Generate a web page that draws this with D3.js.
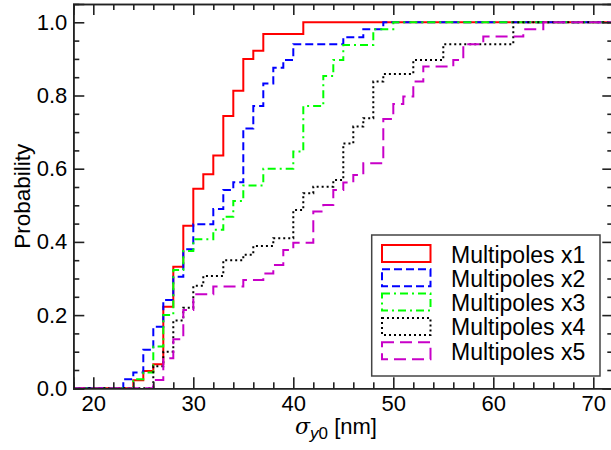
<!DOCTYPE html>
<html>
<head>
<meta charset="utf-8">
<script src="https://cdn.jsdelivr.net/npm/d3@7/dist/d3.min.js"></script>
<style>
  html, body { margin: 0; padding: 0; background: #fff; }
  svg { display: block; font-family: "Liberation Sans", Arial, Helvetica, sans-serif; }
</style>
</head>
<body>
<svg id="chart" width="611" height="450"></svg>
<script>
// Cumulative distributions of sigma_y0 for each multipole scaling (step positions in nm, cumulative probability)
const seriesNames = ["Multipoles x1", "Multipoles x2", "Multipoles x3", "Multipoles x4", "Multipoles x5"];

const x1Sigma = [24, 25, 26, 27, 28, 29, 30, 31, 32, 33, 34, 35, 36, 37, 41];
const x1Prob  = [0.022, 0.047, 0.066, 0.223, 0.332, 0.444, 0.545, 0.585, 0.636, 0.744, 0.813, 0.900, 0.922, 0.968, 1.0];

const x2Sigma = [23, 24, 25, 26, 27, 28, 29, 30, 32, 33, 34, 35, 36, 37, 38, 39, 40, 45, 47, 49];
const x2Prob  = [0.025, 0.043, 0.105, 0.168, 0.241, 0.305, 0.380, 0.448, 0.490, 0.542, 0.563, 0.710, 0.771, 0.833, 0.876, 0.897, 0.940, 0.959, 0.981, 1.0];

const x3Sigma = [24, 25, 26, 27, 28, 29, 30, 32, 33, 34, 35, 37, 40, 41, 43, 44, 45, 48, 50];
const x3Prob  = [0.025, 0.043, 0.114, 0.200, 0.323, 0.375, 0.407, 0.433, 0.469, 0.512, 0.554, 0.600, 0.647, 0.771, 0.853, 0.897, 0.938, 0.981, 1.0];

const x4Sigma = [26, 27, 28, 29, 30, 31, 33, 35, 36, 38, 40, 41, 42, 44, 45, 46, 47, 48, 49, 52, 55, 62];
const x4Prob  = [0.060, 0.100, 0.185, 0.220, 0.280, 0.307, 0.350, 0.365, 0.389, 0.410, 0.487, 0.533, 0.551, 0.569, 0.669, 0.715, 0.738, 0.838, 0.859, 0.897, 0.940, 1.0];

const x5Sigma = [26, 27, 28, 29, 30, 32, 35, 37, 38, 39, 40, 42, 43, 44, 45, 46, 47, 49, 50, 51, 52, 53, 56, 57, 59, 63, 65];
const x5Prob  = [0.023, 0.082, 0.134, 0.214, 0.257, 0.278, 0.296, 0.314, 0.337, 0.378, 0.398, 0.483, 0.501, 0.542, 0.562, 0.583, 0.615, 0.736, 0.777, 0.797, 0.838, 0.879, 0.897, 0.940, 0.961, 0.981, 1.0];

const xMajorTicks = [20, 30, 40, 50, 60, 70];
const yMajorTicks = [0.0, 0.2, 0.4, 0.6, 0.8, 1.0];

const seriesSigma = [x1Sigma, x2Sigma, x3Sigma, x4Sigma, x5Sigma];
const seriesProb  = [x1Prob, x2Prob, x3Prob, x4Prob, x5Prob];
const colors = ["#ff0000", "#0000ff", "#00ff00", "#000000", "#c800c8"];
const dashes = [null, "8,4", "8,4,2,4", "2,3", "12,6"];

const svg = d3.select("#chart");
const plotL = 73.3, plotR = 613.3, plotT = 4, plotB = 388.3;

const x = d3.scaleLinear().domain([18, 72]).range([plotL, plotR]);
const y = d3.scaleLinear().domain([0, 1.05]).range([plotB, plotT]);

svg.append("defs").append("clipPath").attr("id", "plotclip")
  .append("rect").attr("x", plotL).attr("y", plotT).attr("width", plotR - plotL).attr("height", plotB - plotT);

// Step curves (empirical CDFs)
const line = d3.line().x(d => x(d[0])).y(d => y(d[1])).curve(d3.curveStepAfter);
const plot = svg.append("g").attr("clip-path", "url(#plotclip)");
seriesSigma.forEach((xs, i) => {
  const pts = [[18, 0]].concat(xs.map((v, j) => [v, seriesProb[i][j]])).concat([[72, 1.0]]);
  plot.append("path")
    .attr("d", line(pts))
    .attr("fill", "none")
    .attr("stroke", colors[i])
    .attr("stroke-width", 2)
    .attr("stroke-dasharray", dashes[i]);
});

// Axes with inward ticks on all four sides
const xMinor = d3.range(18, 73, 2).filter(v => !xMajorTicks.includes(v));
const yMinor = d3.range(0, 21).map(v => +(v * 0.05).toFixed(2)).filter(v => !yMajorTicks.some(t => Math.abs(t - v) < 1e-9));

function styleAxis(g) {
  g.select(".domain").attr("stroke", "#222").attr("stroke-width", 1.6);
  g.selectAll(".tick line").attr("stroke", "#222").attr("stroke-width", 1.6);
  g.selectAll(".tick text").attr("fill", "#000").style("font-size", "22px").style("font-family", "Liberation Sans, Arial, sans-serif");
}

svg.append("g").attr("transform", `translate(0,${plotB})`)
  .call(d3.axisBottom(x).tickValues(xMinor).tickSize(-6).tickFormat(""))
  .call(styleAxis);
svg.append("g").attr("transform", `translate(0,${plotB})`)
  .call(d3.axisBottom(x).tickValues(xMajorTicks).tickSize(-11).tickPadding(7).tickFormat(d3.format("d")))
  .call(styleAxis);

svg.append("g").attr("transform", `translate(0,${plotT})`)
  .call(d3.axisTop(x).tickValues(xMinor).tickSize(-6).tickFormat(""))
  .call(styleAxis);
svg.append("g").attr("transform", `translate(0,${plotT})`)
  .call(d3.axisTop(x).tickValues(xMajorTicks).tickSize(-11).tickFormat(""))
  .call(styleAxis);

svg.append("g").attr("transform", `translate(${plotL},0)`)
  .call(d3.axisLeft(y).tickValues(yMinor).tickSize(-6).tickFormat(""))
  .call(styleAxis);
svg.append("g").attr("transform", `translate(${plotL},0)`)
  .call(d3.axisLeft(y).tickValues(yMajorTicks).tickSize(-11).tickPadding(6).tickFormat(d3.format(".1f")))
  .call(styleAxis);

svg.append("g").attr("transform", `translate(${plotR},0)`)
  .call(d3.axisRight(y).tickValues(yMinor).tickSize(-6).tickFormat(""))
  .call(styleAxis);
svg.append("g").attr("transform", `translate(${plotR},0)`)
  .call(d3.axisRight(y).tickValues(yMajorTicks).tickSize(-11).tickFormat(""))
  .call(styleAxis);

// Axis titles
const xt = svg.append("text")
  .attr("x", 336).attr("y", 434)
  .attr("text-anchor", "middle")
  .style("font-size", "22px");
xt.append("tspan").style("font-style", "italic").style("font-family", "DejaVu Serif, serif").text("σ");
xt.append("tspan").attr("dy", 5).style("font-size", "17px").style("font-style", "italic").text("y");
xt.append("tspan").style("font-size", "17px").text("0");
xt.append("tspan").attr("dy", -5).text(" [nm]");

svg.append("text")
  .attr("transform", `translate(30,${(plotT + plotB) / 2}) rotate(-90)`)
  .attr("text-anchor", "middle")
  .style("font-size", "22.5px")
  .text("Probability");

// Legend
const lg = svg.append("g");
lg.append("rect")
  .attr("x", 371.7).attr("y", 235).attr("width", 228.3).attr("height", 141)
  .attr("fill", "#fff").attr("stroke", "#444").attr("stroke-width", 1.5);
seriesNames.forEach((name, i) => {
  const ry = 245 + i * 24.3;
  lg.append("rect")
    .attr("x", 382).attr("y", ry).attr("width", 48.5).attr("height", 17)
    .attr("fill", "none")
    .attr("stroke", colors[i]).attr("stroke-width", 2)
    .attr("stroke-dasharray", dashes[i]);
  lg.append("text")
    .attr("x", 451).attr("y", ry + 17.5)
    .style("font-size", "23px")
    .text(name);
});
</script>
</body>
</html>
